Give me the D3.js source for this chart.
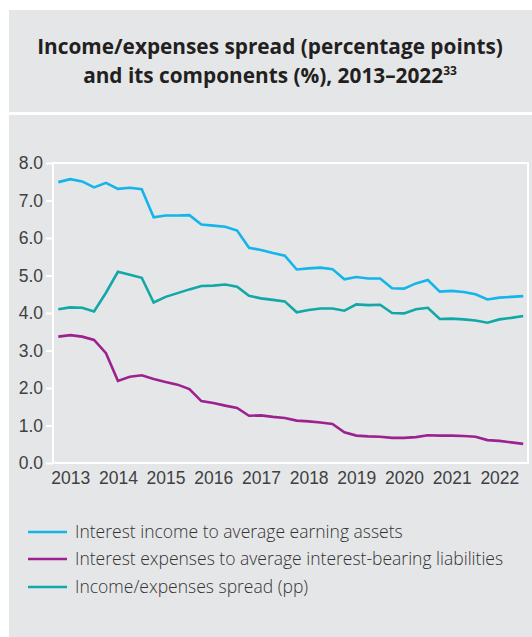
<!DOCTYPE html>
<html>
<head>
<meta charset="utf-8">
<script src="https://cdn.jsdelivr.net/npm/d3@7"></script>
<style>
  body { margin: 0; background: #fff; }
  svg { font-family: 'Open Sans', 'DejaVu Sans', sans-serif; }
  .tick text { fill: #404040; font-size: 17.5px; font-weight: 300; }
  .legend-text { fill: #333; font-size: 17.5px; font-weight: 300; }
</style>
</head>
<body>
<script>
const yearLabels = ['2013', '2014', '2015', '2016', '2017', '2018', '2019', '2020', '2021', '2022'];

// quarterly values, 2013 - 2022
const incomeToAssets = [
  7.49, 7.57, 7.51, 7.35, 7.47, 7.31, 7.34, 7.30, 6.55, 6.60,
  6.60, 6.61, 6.36, 6.33, 6.30, 6.20, 5.74, 5.68, 5.60, 5.53,
  5.16, 5.19, 5.21, 5.17, 4.90, 4.96, 4.92, 4.92, 4.66, 4.65,
  4.79, 4.88, 4.57, 4.59, 4.56, 4.50, 4.36, 4.41, 4.43, 4.45
];
const expensesToLiabilities = [
  3.37, 3.41, 3.37, 3.28, 2.93, 2.19, 2.30, 2.34, 2.24, 2.16,
  2.09, 1.97, 1.65, 1.60, 1.53, 1.47, 1.26, 1.27, 1.23, 1.20,
  1.13, 1.11, 1.08, 1.04, 0.82, 0.73, 0.71, 0.70, 0.67, 0.67,
  0.69, 0.74, 0.73, 0.73, 0.72, 0.70, 0.61, 0.59, 0.55, 0.51
];
const spread = [
  4.10, 4.15, 4.14, 4.04, 4.54, 5.10, 5.02, 4.94, 4.28, 4.43,
  4.53, 4.63, 4.72, 4.73, 4.76, 4.70, 4.46, 4.39, 4.35, 4.31,
  4.02, 4.08, 4.12, 4.12, 4.06, 4.23, 4.21, 4.22, 4.00, 3.99,
  4.10, 4.14, 3.84, 3.85, 3.83, 3.80, 3.74, 3.83, 3.87, 3.92
];

const seriesNames = [
  'Interest income to average earning assets',
  'Interest expenses to average interest-bearing liabilities',
  'Income/expenses spread (pp)'
];
const seriesColors = ['#13b5ea', '#9c2290', '#11a8a6'];
const seriesData = [incomeToAssets, expensesToLiabilities, spread];

const width = 532, height = 637;
const bg = '#e5e6e8';

const svg = d3.select('body')
  .append('svg')
  .attr('width', width)
  .attr('height', height);

// panels
svg.append('rect').attr('x', 9).attr('y', 10).attr('width', width - 9).attr('height', 102).attr('fill', bg);
svg.append('rect').attr('x', 9).attr('y', 115).attr('width', width - 9).attr('height', height - 115).attr('fill', bg);

// title
const title = svg.append('text')
  .attr('text-anchor', 'middle')
  .attr('fill', '#231f20')
  .style('font-size', '20.8px')
  .style('font-weight', 'bold');
title.append('tspan').attr('x', 270).attr('y', 54).text('Income/expenses spread (percentage points)');
title.append('tspan').attr('x', 270).attr('y', 83).text('and its components (%), 2013–2022');
title.append('tspan').attr('dy', -8).style('font-size', '12px').text('33');

const plotLeft = 53, plotRight = 528, plotTop = 163, plotBottom = 463;

const xScale = d3.scaleLinear()
  .domain([0, incomeToAssets.length - 1])
  .range([58.3, 523.2]);

const yScale = d3.scaleLinear()
  .domain([0, 8])
  .range([plotBottom, plotTop]);

// frame
svg.append('rect')
  .attr('x', plotLeft).attr('y', plotTop)
  .attr('width', plotRight - plotLeft).attr('height', plotBottom - plotTop)
  .attr('fill', 'none').attr('stroke', '#fff').attr('stroke-width', 2);

const yAxis = d3.axisLeft(yScale)
  .tickValues(d3.range(0, 9))
  .tickFormat(d3.format('.1f'))
  .tickSize(7)
  .tickPadding(3);

const gy = svg.append('g')
  .attr('transform', 'translate(' + plotLeft + ',0)')
  .call(yAxis);
gy.select('.domain').remove();
gy.selectAll('.tick line').attr('stroke', '#fff').attr('stroke-width', 2);

const xAxis = d3.axisBottom(xScale)
  .tickValues(yearLabels.map((d, i) => 1 + i * 4))
  .tickFormat((d, i) => yearLabels[i])
  .tickSize(0)
  .tickPadding(9);

const gx = svg.append('g')
  .attr('transform', 'translate(0,' + plotBottom + ')')
  .call(xAxis);
gx.select('.domain').remove();

const line = d3.line()
  .x((d, i) => xScale(i))
  .y((d) => yScale(d));

svg.selectAll('.series')
  .data(seriesData)
  .enter()
  .append('path')
  .attr('class', 'series')
  .attr('d', line)
  .attr('fill', 'none')
  .attr('stroke', (d, i) => seriesColors[i])
  .attr('stroke-width', 2.6)
  .attr('stroke-linejoin', 'miter');

// legend
const legend = svg.append('g').attr('class', 'legend');
const legendY = [532, 559, 587];

legend.selectAll('line')
  .data(seriesNames)
  .enter()
  .append('line')
  .attr('x1', 28).attr('x2', 67)
  .attr('y1', (d, i) => legendY[i]).attr('y2', (d, i) => legendY[i])
  .attr('stroke', (d, i) => seriesColors[i])
  .attr('stroke-width', 2.6);

legend.selectAll('text')
  .data(seriesNames)
  .enter()
  .append('text')
  .attr('class', 'legend-text')
  .attr('x', 75)
  .attr('y', (d, i) => legendY[i] + 6)
  .text((d) => d);
</script>
</body>
</html>
